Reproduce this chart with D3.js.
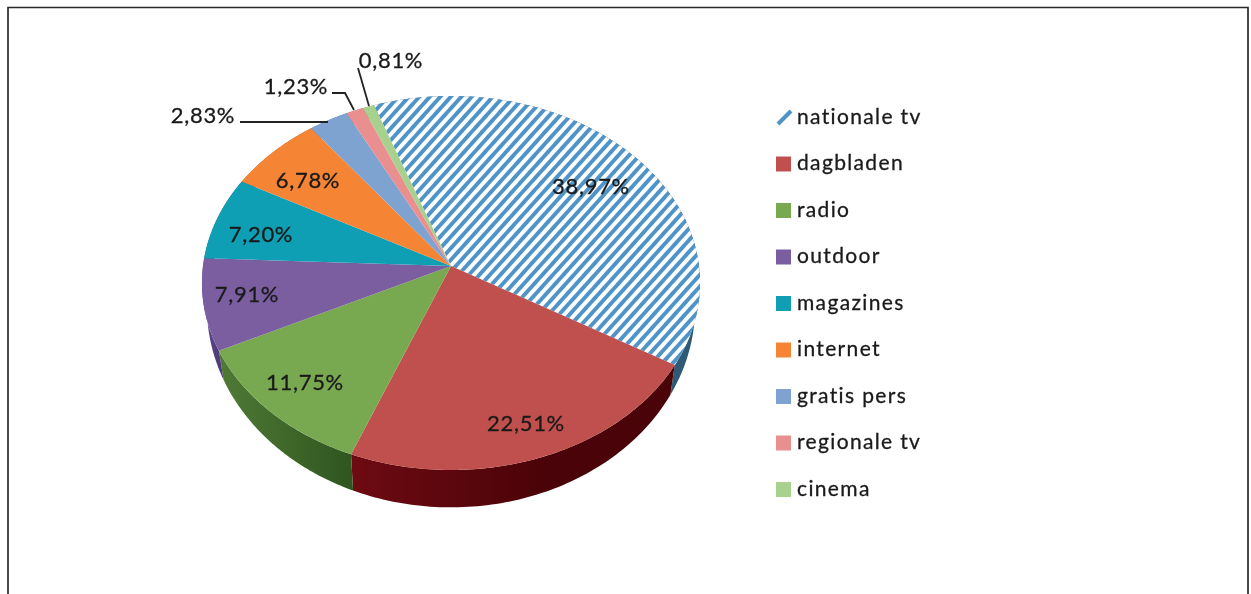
<!DOCTYPE html>
<html><head><meta charset="utf-8">
<script src="https://cdn.jsdelivr.net/npm/d3@7"></script>
<style>html,body{margin:0;padding:0;background:#fff;overflow:hidden}svg{display:block;filter:blur(.6px)}</style>
</head><body><svg id="c" width="1251" height="594"></svg>
<script>
const categories=["nationale tv","dagbladen","radio","outdoor","magazines","internet","gratis pers","regionale tv","cinema"];
const shares=[38.97,22.51,11.75,7.91,7.20,6.78,2.83,1.23,0.81];
const labels=["38,97%","22,51%","11,75%","7,91%","7,20%","6,78%","2,83%","1,23%","0,81%"];
const colors=["#4f94c8","#c0504d","#78a84f","#7b5ea0","#0f9fb5","#f58534","#7fa3d0","#e98f90","#a9d18e"];
const wallLight=["#4f7a94","#6e0a12","#4f7a35","#5f4a8f","#0a7a8c","#b5601f","#5b7ba6","#b06a6a","#7fa06a"];
const wallDark=["#2f5a75","#4a0308","#2f5520","#4a3878","#075c6c","#8f4a14","#465f85","#8a5050","#5f7a50"];
const startDeg=-19.7;
const W=1251,H=594;
const svg=d3.select("#c");
const defs=svg.append("defs");
const hatch=defs.append("pattern").attr("id","hatch").attr("patternUnits","userSpaceOnUse").attr("width",7.8).attr("height",7.8).attr("patternTransform","rotate(-48)");
hatch.append("rect").attr("width",7.8).attr("height",7.8).attr("fill","#fff");
hatch.append("rect").attr("width",7.8).attr("height",3.9).attr("fill",colors[0]);

// frame
svg.append("path").attr("d",d3.line()([[8,H],[8,7.5],[1248,7.5],[1248,H]])).attr("fill","none").attr("stroke","#2a2a2a").attr("stroke-width",1.7);

// perspective pie: unit disc to screen
const cx=451,cy=283,rx=248,ry=187,k=17/187;
const proj=(u,v)=>{const d=1-k*v;return [cx+rx*u/d,cy+(ry*v-17)/d];};
const pie=d3.pie().sort(null).value(d=>d).startAngle(startDeg*Math.PI/180).endAngle((startDeg+360)*Math.PI/180);
const arcs=pie(shares);
const topPt=t=>proj(Math.sin(t),-Math.cos(t));
const low=t=>{const p=topPt(t);return [cx+0.98*(p[0]-cx),395+1.07*(p[1]-365)];};
const line=d3.line();
const rangeOf=(a,n)=>d3.range(n+1).map(i=>a.startAngle+(a.endAngle-a.startAngle)*i/n);

// side walls: covered afterwards by the top surface
const wallG=svg.append("g");
arcs.forEach((a,i)=>{
  const ts=rangeOf(a,80);
  const pts=ts.map(topPt).concat(ts.slice().reverse().map(low));
  const ex=d3.extent(pts,p=>p[0]);
  const g=defs.append("linearGradient").attr("id","w"+i).attr("gradientUnits","userSpaceOnUse")
    .attr("x1",ex[0]).attr("x2",ex[1]).attr("y1",0).attr("y2",0);
  const towardLeft=(a.startAngle+a.endAngle)/2>Math.PI;
  g.append("stop").attr("offset",0).attr("stop-color",wallLight[i]);
  g.append("stop").attr("offset",towardLeft?1:0.6).attr("stop-color",wallDark[i]);
  wallG.append("path").attr("d",line(pts)+"Z").attr("fill",`url(#w${i})`);
});
// top surfaces
const topG=svg.append("g");
const apex=proj(0,0);
arcs.forEach((a,i)=>{
  const pts=[apex].concat(rangeOf(a,120).map(topPt));
  topG.append("path").attr("d",line(pts)+"Z").attr("fill",i===0?"url(#hatch)":colors[i]);
});

// data labels
const labelPos=[[591,188],[526,425],[305,384],[247,296],[261,236],[308,182],[203,117],[296,88],[391,62]];
svg.append("g").selectAll("text").data(labels).join("text")
  .attr("x",(d,i)=>labelPos[i][0]).attr("y",(d,i)=>labelPos[i][1]).attr("text-anchor","middle")
  .attr("dominant-baseline","middle").attr("font-family","Lato").attr("font-size",22).attr("letter-spacing",0.7)
  .attr("fill","#1a1a1a").attr("stroke","#1a1a1a").attr("stroke-width",0.3).text(d=>d);

// leader lines
const leaders=[[[240,122],[328,122]],[[332,93],[345,93],[354,110]],[[358,68],[369,106]]];
svg.append("g").selectAll("path").data(leaders).join("path").attr("d",d=>line(d)).attr("fill","none").attr("stroke","#222").attr("stroke-width",1.8);

// legend
const legendY=d3.scalePoint().domain(categories).range([117,489]);
const lg=svg.append("g").selectAll("g").data(categories).join("g").attr("transform",d=>`translate(776,${legendY(d)})`);
lg.each(function(d,i){
  const s=d3.select(this);
  if(i===0){
    s.append("path").attr("d",line([[2,7],[15,-6]])).attr("stroke",colors[0]).attr("stroke-width",4).attr("fill","none");
  } else {
    s.append("rect").attr("x",0).attr("y",-7).attr("width",15).attr("height",15).attr("fill",colors[i]);
  }
  s.append("text").attr("x",21).attr("y",1.5).attr("dominant-baseline","middle").attr("font-family","Lato").attr("font-size",21).attr("letter-spacing",1.35)
   .attr("fill","#1a1a1a").attr("stroke","#1a1a1a").attr("stroke-width",0.3).text(d);
});
</script></body></html>
